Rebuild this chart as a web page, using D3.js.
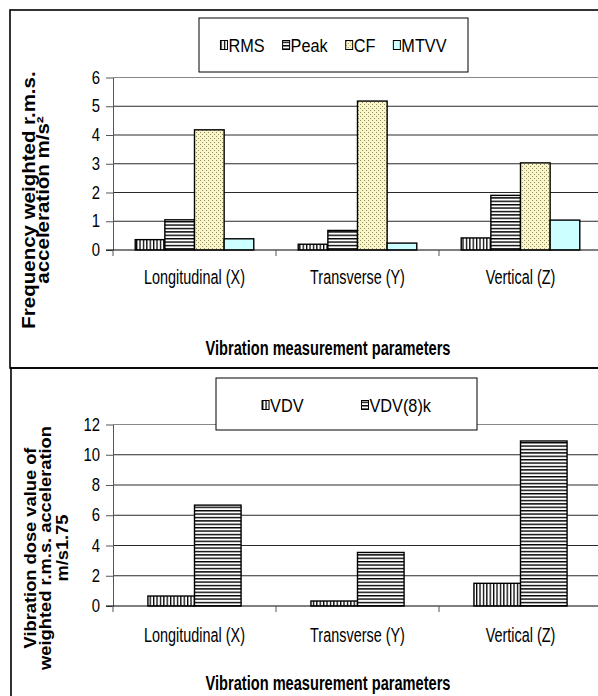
<!DOCTYPE html>
<html>
<head>
<meta charset="utf-8">
<script src="https://cdn.jsdelivr.net/npm/d3@7"></script>
<style>
  html, body { margin: 0; padding: 0; background: #fff; }
  svg { display: block; }
  text { font-family: 'Liberation Sans', Arial, sans-serif; fill: #000; }
</style>
</head>
<body>
<div id="chart"></div>
<script>
// categories shared by both charts
const categories = ['Longitudinal (X)', 'Transverse (Y)', 'Vertical (Z)'];

// top chart: frequency weighted acceleration (m/s²)
const accelSeries = ['RMS', 'Peak', 'CF', 'MTVV'];
const accelRms = [0.36, 0.20, 0.42];
const accelPeak = [1.05, 0.68, 1.90];
const accelCf = [4.18, 5.18, 3.03];
const accelMtvv = [0.39, 0.24, 1.04];
const accelTicks = [0, 1, 2, 3, 4, 5, 6];

// bottom chart: vibration dose values
const doseSeries = ['VDV', 'VDV(8)k'];
const doseVdv = [0.66, 0.33, 1.50];
const doseVdv8k = [6.67, 3.54, 10.91];
const doseTicks = [0, 2, 4, 6, 8, 10, 12];

const fills = {
    'RMS': 'url(#vstripe)',
    'Peak': 'url(#hstripe)',
    'CF': 'url(#dots)',
    'MTVV': '#ccffff',
    'VDV': 'url(#vstripe)',
    'VDV(8)k': 'url(#hstripe)',
};

const width = 598;
const height = 696;
const squashX = 0.75; // the source picture is squeezed sideways

const svg = d3.select('#chart')
    .append('svg')
    .attr('width', width)
    .attr('height', height);

// fill patterns
const defs = svg.append('defs');
const vs = defs.append('pattern')
    .attr('id', 'vstripe')
    .attr('patternUnits', 'userSpaceOnUse')
    .attr('width', 3.4)
    .attr('height', 4);
vs.append('rect').attr('width', 3.4).attr('height', 4).attr('fill', '#fff');
vs.append('rect').attr('width', 1.3).attr('height', 4).attr('fill', '#000');

const hs = defs.append('pattern')
    .attr('id', 'hstripe')
    .attr('patternUnits', 'userSpaceOnUse')
    .attr('width', 4)
    .attr('height', 3.4);
hs.append('rect').attr('width', 4).attr('height', 3.4).attr('fill', '#fff');
hs.append('rect').attr('width', 4).attr('height', 1.4).attr('fill', '#000');

const dots = defs.append('pattern')
    .attr('id', 'dots')
    .attr('patternUnits', 'userSpaceOnUse')
    .attr('width', 4)
    .attr('height', 4);
dots.append('rect').attr('width', 4).attr('height', 4).attr('fill', '#fbf6c6');
dots.append('rect').attr('width', 1).attr('height', 1).attr('fill', '#8c8a6a');
dots.append('rect').attr('x', 2).attr('y', 2).attr('width', 1).attr('height', 1).attr('fill', '#8c8a6a');

// squeeze text horizontally about its own anchor point
function squash(sel, k) {
    sel.each(function () {
        const t = d3.select(this);
        const x = +t.attr('x') || 0;
        const y = +t.attr('y') || 0;
        t.attr('x', 0).attr('y', 0)
            .attr('transform', `translate(${x},${y}) scale(${k},1)`);
    });
}

function drawPanel(cfg) {
    const g = svg.append('g');

    // outer frame
    g.append('rect')
        .attr('x', cfg.frame[0])
        .attr('y', cfg.frame[1])
        .attr('width', cfg.frame[2])
        .attr('height', cfg.frame[3])
        .attr('fill', 'none')
        .attr('stroke', '#000')
        .attr('stroke-width', 1.6);

    const x = d3.scaleBand()
        .domain(categories)
        .range([113, 602]);

    const xInner = d3.scaleBand()
        .domain(cfg.series)
        .range([0, x.bandwidth()])
        .paddingInner(0)
        .paddingOuter(0.75);

    const y = d3.scaleLinear()
        .domain([0, d3.max(cfg.ticks)])
        .range(cfg.plotY);

    // gridlines
    g.append('g')
        .selectAll('line')
        .data(cfg.ticks.filter((v) => v > 0))
        .join('line')
        .attr('x1', x.range()[0])
        .attr('x2', x.range()[1])
        .attr('y1', (v) => y(v))
        .attr('y2', (v) => y(v))
        .attr('stroke', (v) => (v === d3.max(cfg.ticks) ? '#888' : '#2a2a2a'))
        .attr('stroke-width', 1);

    // y axis
    const yAxis = d3.axisLeft(y)
        .tickValues(cfg.ticks)
        .tickFormat(d3.format('d'))
        .tickSize(7)
        .tickSizeOuter(0)
        .tickPadding(6);

    const ya = g.append('g')
        .attr('transform', `translate(${x.range()[0]},0)`)
        .call(yAxis);
    ya.select('.domain').attr('stroke', '#555');
    ya.selectAll('.tick line').attr('stroke', '#555');
    ya.selectAll('text')
        .attr('font-size', 17.5)
        .attr('font-family', null)
        .call(squash, 0.85);

    // bars
    const rows = cfg.series.map((s, i) => ({ name: s, values: cfg.values[i] }));
    g.append('g')
        .selectAll('g')
        .data(rows)
        .join('g')
        .selectAll('rect')
        .data((r) => r.values.map((v, ci) => ({ name: r.name, cat: categories[ci], value: v })))
        .join('rect')
        .attr('x', (d) => x(d.cat) + xInner(d.name))
        .attr('y', (d) => y(d.value))
        .attr('width', xInner.bandwidth())
        .attr('height', (d) => y(0) - y(d.value))
        .attr('fill', (d) => fills[d.name])
        .attr('stroke', '#000')
        .attr('stroke-width', 1.4);

    // x axis line and boundary ticks
    const xa = g.append('g');
    xa.append('line')
        .attr('x1', x.range()[0] - 7)
        .attr('x2', x.range()[1])
        .attr('y1', y(0))
        .attr('y2', y(0))
        .attr('stroke', '#000')
        .attr('stroke-width', 1.2);
    xa.selectAll('.btick')
        .data(categories.map((c) => x(c)).concat([x.range()[1]]))
        .join('line')
        .attr('class', 'btick')
        .attr('x1', (v) => v)
        .attr('x2', (v) => v)
        .attr('y1', y(0))
        .attr('y2', y(0) + 6)
        .attr('stroke', '#555');
    xa.selectAll('.clabel')
        .data(categories)
        .join('text')
        .attr('class', 'clabel')
        .attr('x', (c) => x(c) + x.bandwidth() / 2)
        .attr('y', cfg.catY)
        .attr('dy', '0.35em')
        .attr('text-anchor', 'middle')
        .attr('font-size', 19.5)
        .text((c) => c)
        .call(squash, 0.74);

    // x axis title
    g.append('text')
        .attr('x', 328)
        .attr('y', cfg.xTitleY)
        .attr('dy', '0.35em')
        .attr('text-anchor', 'middle')
        .attr('font-size', 19.5)
        .attr('font-weight', 'bold')
        .text('Vibration measurement parameters')
        .call(squash, squashX);

    // y axis title, rotated lines
    cfg.yTitle.forEach((line, i) => {
        g.append('text')
            .attr('transform', `translate(${cfg.yTitleX[i]},${cfg.yTitleCy}) scale(0.88,1) rotate(-90)`)
            .attr('text-anchor', 'middle')
            .attr('dy', '0.35em')
            .attr('font-size', cfg.yTitleSize)
            .attr('font-weight', 'bold')
            .text(line);
    });

    // legend
    const lb = cfg.legendBox;
    g.append('rect')
        .attr('x', lb[0])
        .attr('y', lb[1])
        .attr('width', lb[2])
        .attr('height', lb[3])
        .attr('fill', '#fff')
        .attr('stroke', '#000')
        .attr('stroke-width', 1);

    const legendK = 0.88;
    const items = g.append('g');
    const entries = items.selectAll('g')
        .data(cfg.series)
        .join('g');
    entries.append('rect')
        .attr('x', 0)
        .attr('y', -4.5)
        .attr('width', 7)
        .attr('height', 9)
        .attr('fill', (s) => fills[s])
        .attr('stroke', '#000')
        .attr('stroke-width', 1);
    entries.append('text')
        .attr('x', 8)
        .attr('y', 0)
        .attr('dy', '0.36em')
        .attr('font-size', 18.5)
        .text((s) => s)
        .call(squash, legendK);

    // lay the entries out in a row centred in the box
    let cursor = 0;
    const widths = [];
    entries.each(function () {
        const w = 8 + d3.select(this).select('text').node().getComputedTextLength() * legendK;
        widths.push(w);
    });
    const total = d3.sum(widths) + cfg.legendGap * (widths.length - 1);
    const start = lb[0] + lb[2] / 2 - total / 2;
    entries.attr('transform', (s, i) => {
        const tx = start + cursor;
        cursor += widths[i] + cfg.legendGap;
        return `translate(${tx},${cfg.legendCy})`;
    });
}

drawPanel({
    frame: [10, 10, 620, 358],
    series: accelSeries,
    values: [accelRms, accelPeak, accelCf, accelMtvv],
    ticks: accelTicks,
    plotY: [250, 77.5],
    catY: 277,
    xTitleY: 348,
    yTitle: ['Frequency weighted r.m.s.', 'acceleration m/s²'],
    yTitleX: [29, 43],
    yTitleCy: 200,
    yTitleSize: 20.5,
    legendBox: [199, 18, 269, 54],
    legendCy: 45,
    legendGap: 18,
});

drawPanel({
    frame: [11, 368, 620, 360],
    series: doseSeries,
    values: [doseVdv, doseVdv8k],
    ticks: doseTicks,
    plotY: [606, 424.5],
    catY: 635,
    xTitleY: 683,
    yTitle: ['Vibration dose value of', 'weighted r.m.s. acceleration', 'm/s1.75'],
    yTitleX: [30, 45, 62],
    yTitleCy: 548,
    yTitleSize: 18.3,
    legendBox: [216, 378, 261, 52],
    legendCy: 405,
    legendGap: 58,
});
</script>
</body>
</html>
